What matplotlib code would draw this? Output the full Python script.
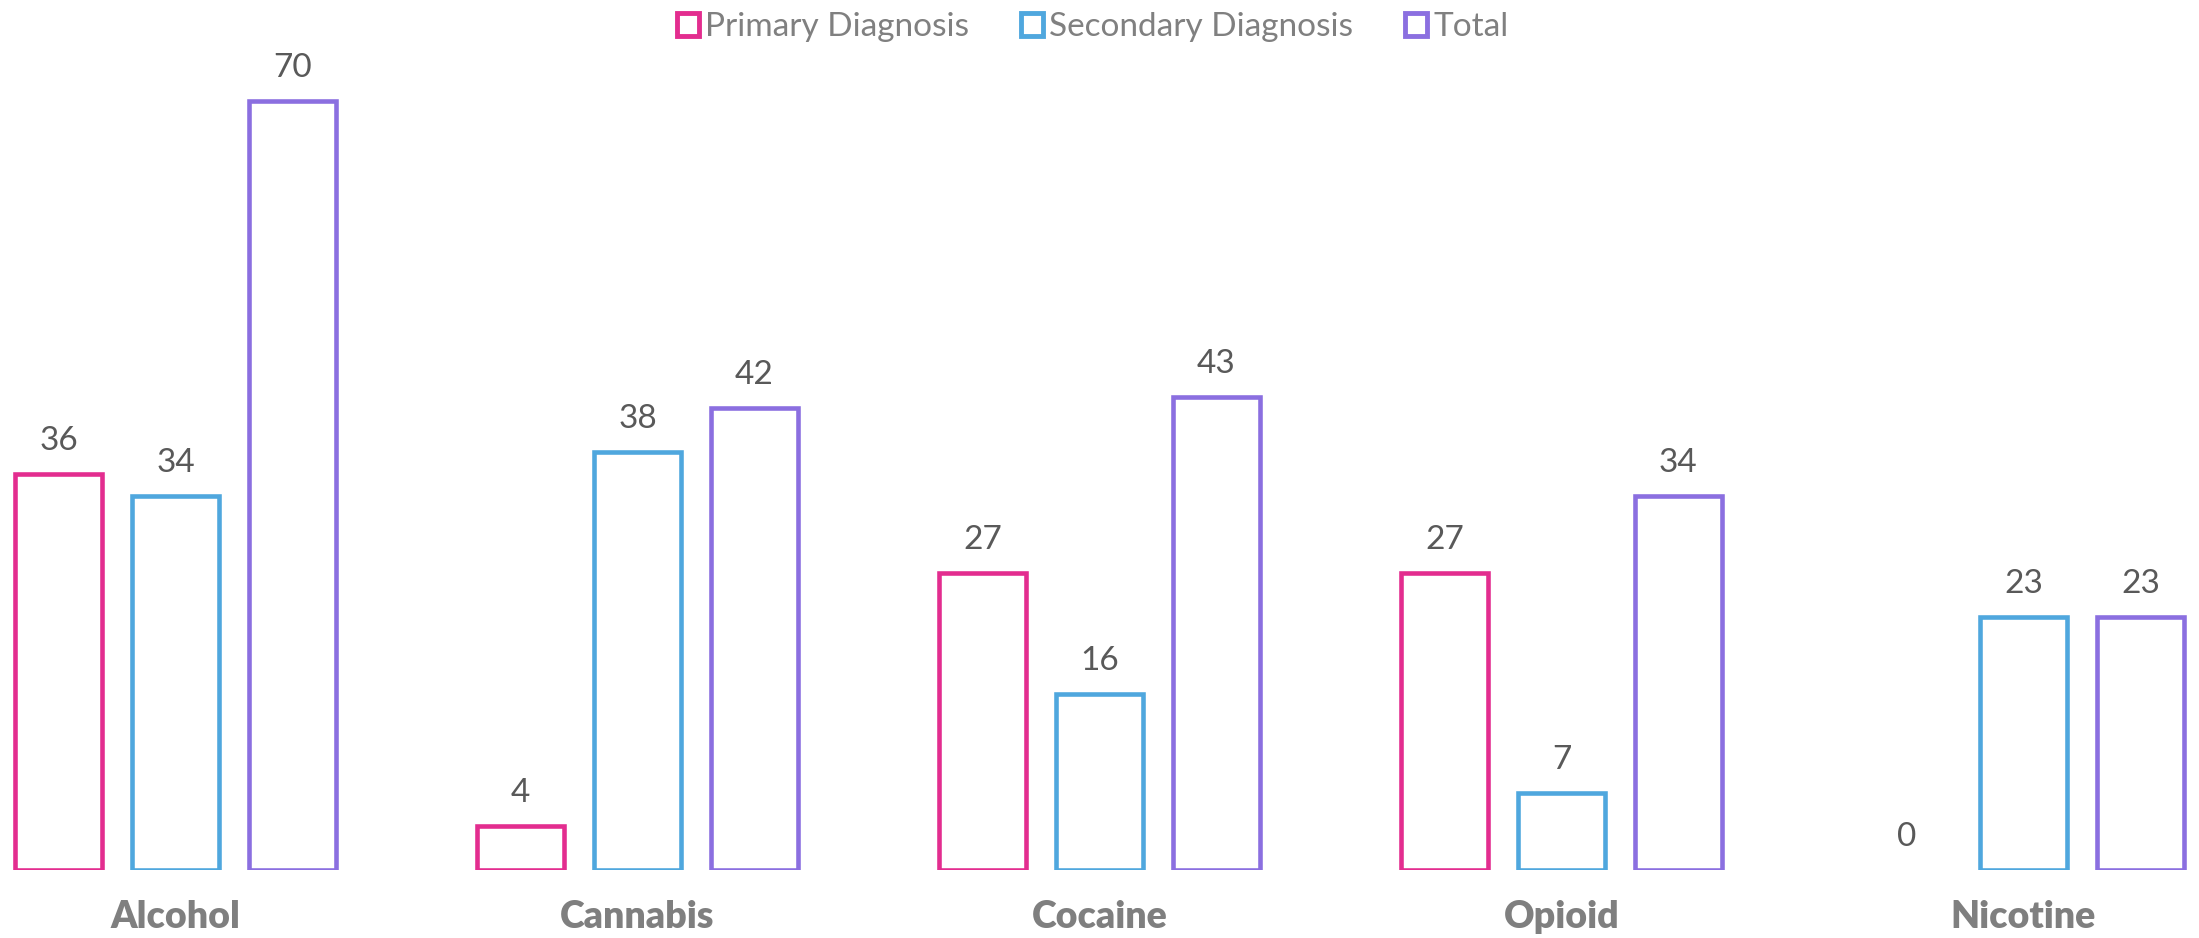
import matplotlib
matplotlib.use("Agg")
import matplotlib.pyplot as plt
from matplotlib.patches import Patch
import numpy as np

categories = ["Alcohol", "Cannabis", "Cocaine", "Opioid", "Nicotine"]
series_names = ["Primary Diagnosis", "Secondary Diagnosis", "Total"]
primary = [36, 4, 27, 27, 0]
secondary = [34, 38, 16, 7, 23]
total = [70, 42, 43, 34, 23]
colors = ["#E32D8F", "#4FA7DE", "#8B6FE0"]

plt.rcParams['font.family'] = ['Lato', 'DejaVu Sans']

W, H, DPI = 2199, 938, 100
fig = plt.figure(figsize=(W / DPI, H / DPI), dpi=DPI)
bottom_px = 869.5
ymax = 75
px_per_unit = 10.98
ax_h = ymax * px_per_unit
ax = fig.add_axes([0, (H - bottom_px) / H, 1, ax_h / H])
ax.set_xlim(-0.38, 4.38)
ax.set_ylim(0, ymax)

x = np.arange(len(categories))
step = 0.253
width = 0.188
for i, (vals, c) in enumerate(zip([primary, secondary, total], colors)):
    xs = x + (i - 1) * step
    bars = ax.bar(xs, vals, width, facecolor="white", edgecolor=c, linewidth=3.3,
                  label=series_names[i])
    for b, v in zip(bars, vals):
        if v == 0:
            b.set_linewidth(0)
    for xi, v in zip(xs, vals):
        ax.annotate(str(v), (xi, v), xytext=(0, 18), textcoords="offset pixels",
                    ha="center", va="bottom", fontsize=24, color="#595959")

for s in ax.spines.values():
    s.set_visible(False)
ax.set_yticks([])
ax.set_xticks(x)
ax.set_xticklabels(categories, fontsize=27, fontweight="heavy", color="#7F7F7F")
ax.tick_params(axis="x", length=0, pad=22)

handles = [Patch(facecolor="white", edgecolor=c, linewidth=3.5) for c in colors]
fig.legend(handles, series_names, loc="upper center", bbox_to_anchor=(0.497, 1.019),
           ncol=3, frameon=False, fontsize=24, labelcolor="#808080",
           handlelength=0.65, handleheight=0.65, handletextpad=0.2, columnspacing=1.55)

fig.savefig("out.png", dpi=DPI)
